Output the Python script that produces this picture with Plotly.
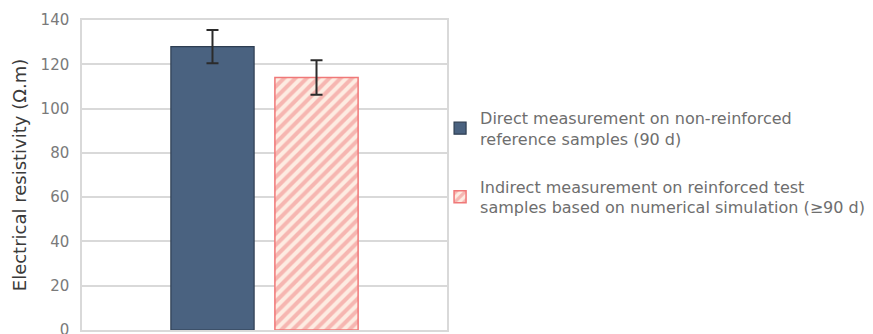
import plotly.graph_objects as go

categories = ["Electrical resistivity"]
series_names = [
    "Direct measurement on non-reinforced<br>reference samples (90 d)",
    "Indirect measurement on reinforced test<br>samples based on numerical simulation (≥90 d)",
]
direct_values = [128]
direct_errors = [7.5]
indirect_values = [114]
indirect_errors = [7.8]
y_ticks = [0, 20, 40, 60, 80, 100, 120, 140]

fig = go.Figure()
fig.add_trace(go.Bar(
    x=categories, y=direct_values, name=series_names[0], legendgroup="a",
    marker=dict(color="#4a6280", line=dict(color="#2e3e52", width=1.2)),
    error_y=dict(type="data", array=direct_errors, color="#2b2b2b", thickness=2, width=6),
))
fig.add_trace(go.Bar(
    x=categories, y=indirect_values, name=series_names[1], legendgroup="b",
    marker=dict(color="white", line=dict(color="#f07878", width=1.5),
                pattern=dict(shape="/", fgcolor="#f08080", bgcolor="#fdece2", size=8, solidity=0.5)),
    error_y=dict(type="data", array=indirect_errors, color="#2b2b2b", thickness=2, width=6),
))

fig.update_layout(
    width=873, height=334,
    margin=dict(l=74, r=434, t=12, b=12, autoexpand=False),
    paper_bgcolor="white", plot_bgcolor="white",
    font=dict(family="DejaVu Sans", color="#595959"),
    barmode="group", bargap=0.43, bargroupgap=0.2,
    showlegend=True,
    legend=dict(x=0.981, y=0.739, xanchor="left", yanchor="top",
                font=dict(size=16, color="#6e6e6e"), tracegroupgap=24,
                bgcolor="rgba(0,0,0,0)", itemwidth=30),
)
fig.update_xaxes(showticklabels=False, showline=True, mirror=True, linecolor="#d9d9d9",
                 linewidth=1.5, showgrid=False, range=[-0.5, 0.5])
fig.update_yaxes(range=[0, 140], tickvals=y_ticks, showgrid=True, gridcolor="#d9d9d9", gridwidth=1.5,
                 showline=True, mirror=True, linecolor="#d9d9d9", linewidth=1.5,
                 tickfont=dict(size=15, color="#7a7a7a"), ticks="", ticklabelstandoff=8,
                 title=dict(text="Electrical resistivity (Ω.m)", font=dict(size=18, color="#3a3a3a"), standoff=9),
                 zeroline=False)

fig.write_html("out.html")
